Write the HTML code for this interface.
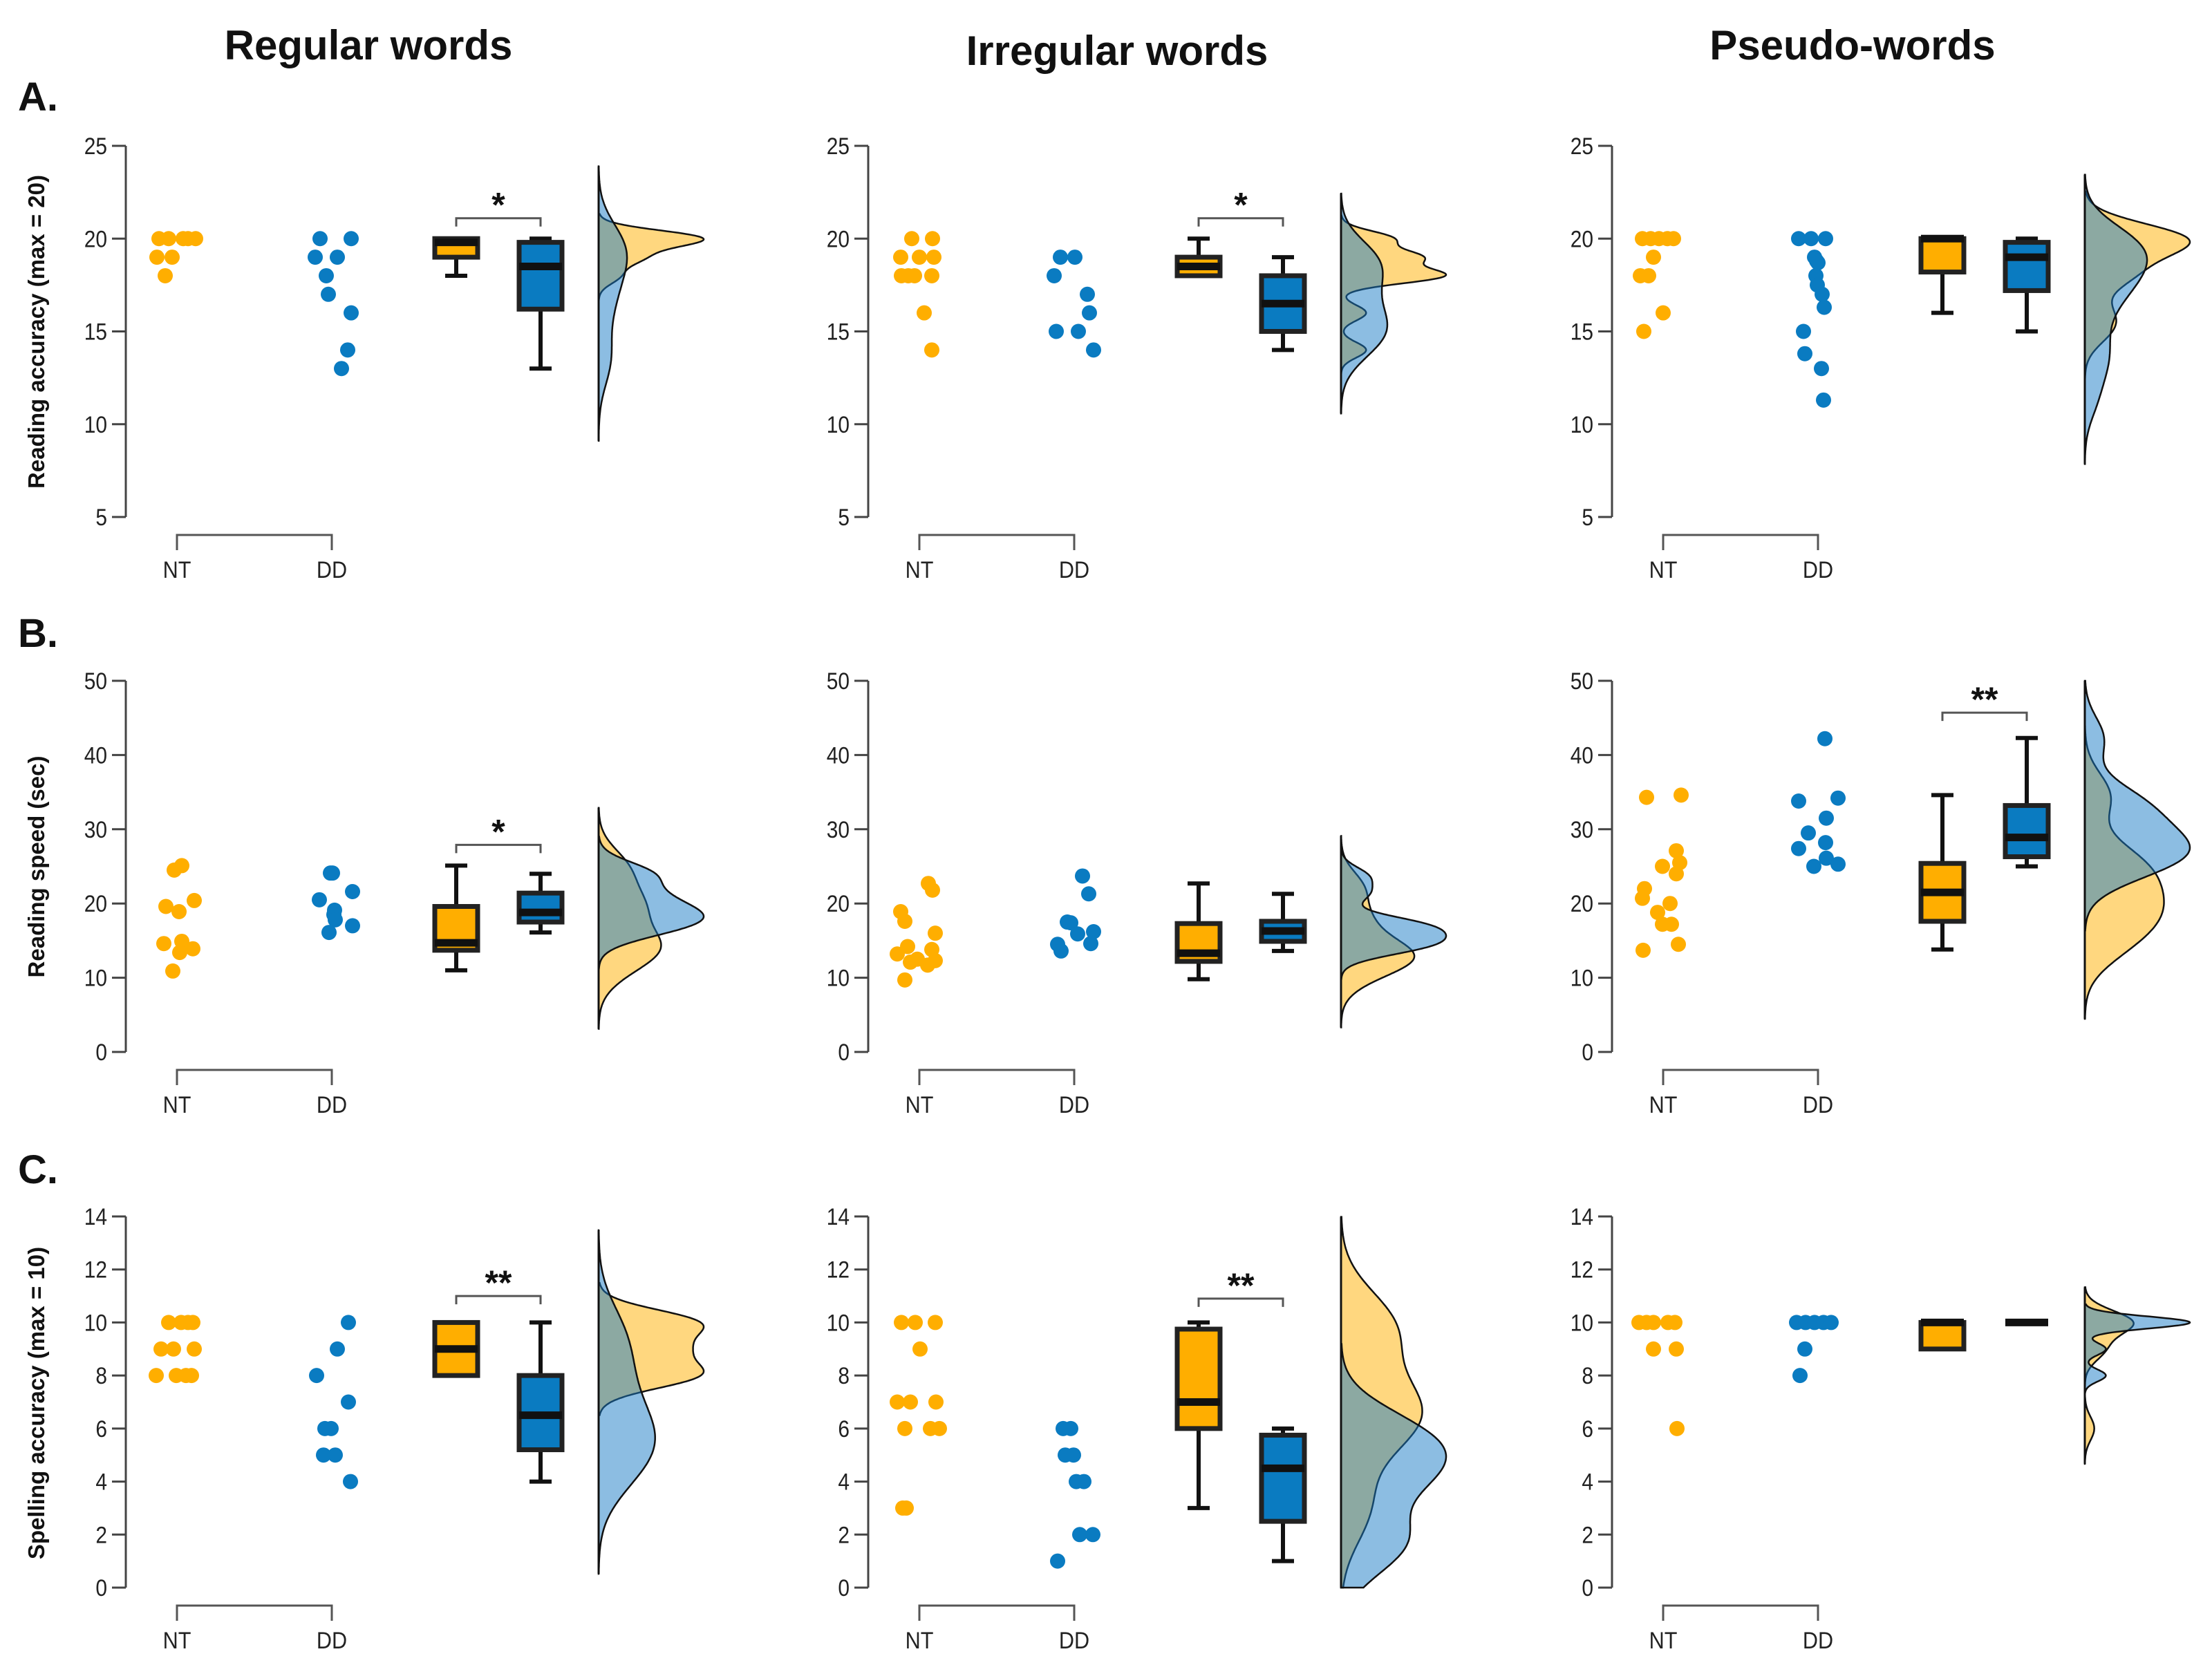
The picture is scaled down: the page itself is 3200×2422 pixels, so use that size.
<!DOCTYPE html>
<html>
<head>
<meta charset="utf-8">
<style>
  html,body{margin:0;padding:0;background:#fff;}
  svg{display:block;}
  text{font-family:"Liberation Sans",sans-serif;}
</style>
</head>
<body>
<svg id="chart" width="3200" height="2422" viewBox="0 0 3200 2422" xmlns="http://www.w3.org/2000/svg">
  <rect x="0" y="0" width="3200" height="2422" fill="#fff"/>
  <text x="533" y="86" font-size="60" font-weight="bold" text-anchor="middle" fill="#111">Regular words</text>
  <text x="1616" y="94" font-size="60" font-weight="bold" text-anchor="middle" fill="#111">Irregular words</text>
  <text x="2680" y="86" font-size="60" font-weight="bold" text-anchor="middle" fill="#111">Pseudo-words</text>
  <text x="26" y="160" font-size="58" font-weight="bold" fill="#111">A.</text>
  <text x="26" y="936" font-size="58" font-weight="bold" fill="#111">B.</text>
  <text x="26" y="1712" font-size="58" font-weight="bold" fill="#111">C.</text>
  <text transform="translate(64,480) rotate(-90)" font-size="33" font-weight="bold" text-anchor="middle" fill="#111">Reading accuracy (max = 20)</text>
  <text transform="translate(64,1254) rotate(-90)" font-size="33" font-weight="bold" text-anchor="middle" fill="#111">Reading speed (sec)</text>
  <text transform="translate(64,2030) rotate(-90)" font-size="33" font-weight="bold" text-anchor="middle" fill="#111">Spelling accuracy (max = 10)</text>
  <g id="plots"></g>
</svg>
<script>
// ---------- tick labels ----------
const ticksA = [5, 10, 15, 20, 25];
const ticksB = [0, 10, 20, 30, 40, 50];
const ticksC = [0, 2, 4, 6, 8, 10, 12, 14];
const groupLabels = ["NT", "DD"];

// ---------- A: reading accuracy ----------
const a1NtVals = [20,20,20,20,20,19,19,18];
const a1NtJit  = [-26,-12,9,16,27,-29,-7,-17];
const a1DdVals = [20,20,19,19,18,17,16,14,13];
const a1DdJit  = [-17,28,-24,8,-8,-5,28,23,14];
const a1NtBox = [18,19,19.8,20,20];
const a1DdBox = [13,16.2,18.5,19.8,20];

const a2NtVals = [20,20,19,19,19,18,18,18,18,16,14];
const a2NtJit  = [-11,19,-27,0,21,-26,-16,-7,18,7,18];
const a2DdVals = [19,19,18,17,16,15,15,14];
const a2DdJit  = [-20,1,-29,19,22,-26,6,28];
const a2NtBox = [18,18,18.5,19,20];
const a2DdBox = [14,15,16.5,18,19];

const a3NtVals = [20,20,20,20,20,19,18,18,16,15];
const a3NtJit  = [-30,-18,-6,6,15,-14,-33,-21,0,-28];
const a3DdVals = [20,20,20,19,18.8,18.7,18,17.5,17,16.3,15,13.8,13,11.3];
const a3DdJit  = [-28,-10,11,-5,-2,0,-3,-1,6,9,-21,-19,5,8];
const a3NtBox = [16,18.2,20,20,20];
const a3DdBox = [15,17.2,19,19.8,20];

// ---------- B: reading speed ----------
const b1NtVals = [24.5,25.1,19.6,20.4,18.9,14.6,14.9,13.9,13.4,10.9];
const b1NtJit  = [-4,7,-16,25,3,-19,7,23,4,-6];
const b1DdVals = [24.1,24.1,20.5,21.6,19.1,18.5,17.8,16.1,17];
const b1DdJit  = [1,-2,-18,30,4,3,5,-4,30];
const b1NtBox = [11,13.7,14.7,19.6,25.1];
const b1DdBox = [16.1,17.5,18.8,21.4,24];

const b2NtVals = [18.9,17.6,22.7,21.8,16,13.2,14.2,13.8,12.1,12.5,11.7,12.3,9.7];
const b2NtJit  = [-27,-21,13,19,23,-32,-17,18,-13,-3,12,23,-21];
const b2DdVals = [23.7,21.3,17.5,17.4,16.2,15.9,14.5,13.6,14.6];
const b2DdJit  = [12,21,-10,-5,28,5,-24,-19,24];
const b2NtBox = [9.8,12.2,13.3,17.3,22.7];
const b2DdBox = [13.6,14.9,16.3,17.6,21.3];

const b3NtVals = [34.3,34.6,27.1,25,25.5,24,22,20.7,20,18.8,17.2,17.2,13.7,14.5];
const b3NtJit  = [-24,26,19,-1,24,19,-27,-30,10,-8,-1,12,-29,22];
const b3DdVals = [42.2,33.8,34.2,31.5,29.5,27.4,28.2,26.1,25,25.3];
const b3DdJit  = [10,-28,29,12,-14,-28,11,12,-6,29];
const b3NtBox = [13.8,17.6,21.5,25.4,34.6];
const b3DdBox = [25,26.3,28.9,33.2,42.3];

// ---------- C: spelling accuracy ----------
const c1NtVals = [10,10,10,10,9,9,9,8,8,8,8];
const c1NtJit  = [-12,6,16,23,-23,-5,25,-30,-1,13,21];
const c1DdVals = [10,9,8,7,6,6,5,5,4];
const c1DdJit  = [24,8,-22,24,-10,-1,-12,5,27];
const c1NtBox = [8,8,9,10,10];
const c1DdBox = [4,5.2,6.5,8,10];

const c2NtVals = [10,10,10,9,7,7,7,6,6,6,3,3];
const c2NtJit  = [-26,-6,23,1,-32,-13,24,-21,16,29,-24,-19];
const c2DdVals = [6,6,5,5,4,4,2,2,1];
const c2DdJit  = [-16,-5,-13,-1,3,14,8,27,-24];
const c2NtBox = [3,6,7,9.75,10];
const c2DdBox = [1,2.5,4.5,5.75,6];

const c3NtVals = [10,10,10,10,10,9,9,6];
const c3NtJit  = [-35,-24,-14,7,17,-14,19,20];
const c3DdVals = [10,10,10,10,10,9,8];
const c3DdJit  = [-31,-18,-5,8,19,-19,-26];
const c3NtBox = [9,9,10,10,10];
const c3DdBox = [10,10,10,10,10];

// significance brackets: value level and label
const sigA1 = [21.1, "*"];
const sigA2 = [21.1, "*"];
const sigB1 = [27.9, "*"];
const sigB3 = [45.7, "**"];
const sigC1 = [11.0, "**"];
const sigC2 = [10.9, "**"];

const panels = [
  {id:"a1", col:0,row:0,min:5,max:25,ticks:ticksA,ntV:a1NtVals,ntJ:a1NtJit,ddV:a1DdVals,ddJ:a1DdJit,ntB:a1NtBox,ddB:a1DdBox,sig:sigA1,bwf:1},
  {id:"a2", col:1,row:0,min:5,max:25,ticks:ticksA,ntV:a2NtVals,ntJ:a2NtJit,ddV:a2DdVals,ddJ:a2DdJit,ntB:a2NtBox,ddB:a2DdBox,sig:sigA2,bwf:1},
  {id:"a3", col:2,row:0,min:5,max:25,ticks:ticksA,ntV:a3NtVals,ntJ:a3NtJit,ddV:a3DdVals,ddJ:a3DdJit,ntB:a3NtBox,ddB:a3DdBox,sig:null,bwf:0.8},
  {id:"b1", col:0,row:1,min:0,max:50,ticks:ticksB,ntV:b1NtVals,ntJ:b1NtJit,ddV:b1DdVals,ddJ:b1DdJit,ntB:b1NtBox,ddB:b1DdBox,sig:sigB1,bwf:1},
  {id:"b2", col:1,row:1,min:0,max:50,ticks:ticksB,ntV:b2NtVals,ntJ:b2NtJit,ddV:b2DdVals,ddJ:b2DdJit,ntB:b2NtBox,ddB:b2DdBox,sig:null,bwf:1},
  {id:"b3", col:2,row:1,min:0,max:50,ticks:ticksB,ntV:b3NtVals,ntJ:b3NtJit,ddV:b3DdVals,ddJ:b3DdJit,ntB:b3NtBox,ddB:b3DdBox,sig:sigB3,bwf:1},
  {id:"c1", col:0,row:2,min:0,max:14,ticks:ticksC,ntV:c1NtVals,ntJ:c1NtJit,ddV:c1DdVals,ddJ:c1DdJit,ntB:c1NtBox,ddB:c1DdBox,sig:sigC1,bwf:1},
  {id:"c2", col:1,row:2,min:0,max:14,ticks:ticksC,ntV:c2NtVals,ntJ:c2NtJit,ddV:c2DdVals,ddJ:c2DdJit,ntB:c2NtBox,ddB:c2DdBox,sig:sigC2,bwf:1},
  {id:"c3", col:2,row:2,min:0,max:14,ticks:ticksC,ntV:c3NtVals,ntJ:c3NtJit,ddV:c3DdVals,ddJ:c3DdJit,ntB:c3NtBox,ddB:c3DdBox,sig:null,bwf:1}
];

const NS = "http://www.w3.org/2000/svg";
const COL_OFF = [0, 1074, 2150];
const ROW_OFF = [0, 774, 1549];
const ORANGE = "#FFAE00", BLUE = "#0A7BC1";

function mk(tag, attrs, parent){
  const e = document.createElementNS(NS, tag);
  for (const k in attrs) e.setAttribute(k, attrs[k]);
  parent.appendChild(e);
  return e;
}
function sd(a){const m=a.reduce((s,v)=>s+v,0)/a.length;return Math.sqrt(a.reduce((s,v)=>s+(v-m)*(v-m),0)/(a.length-1));}
function quant(a,p){const s=[...a].sort((x,y)=>x-y);const h=(s.length-1)*p;const l=Math.floor(h);return s[l]+(h-l)*((s[Math.min(l+1,s.length-1)])-s[l]);}
function bw(a){const iqr=(quant(a,0.75)-quant(a,0.25))/1.34;let m=Math.min(sd(a), iqr>0?iqr:sd(a));if(!(m>0))m=sd(a)||0.3;return 0.9*m*Math.pow(a.length,-0.2);}
function kde(a,h,y){let s=0;for(const v of a){const z=(y-v)/h;s+=Math.exp(-0.5*z*z);}return s/(a.length*h*Math.sqrt(2*Math.PI));}

const root = document.getElementById("plots");
panels.forEach(p=>{
  const ox = COL_OFF[p.col], oy = ROW_OFF[p.row];
  const top = 211+oy, bot = 748+oy;
  const ys = v => top + (p.max - v)/(p.max - p.min)*(bot - top);
  const axX = 182+ox, ntX = 256+ox, ddX = 480+ox, bNt = 660+ox, bDd = 782+ox, base = 866+ox;
  const g = mk("g", {}, root);
  
  

  const ax = mk("line", {x1:axX,y1:top,x2:axX,y2:bot,stroke:"#444","stroke-width":3}, g);
  
  
  p.ticks.forEach(t=>{
    const y = ys(t);
    const tl = mk("line", {x1:axX-20,y1:y,x2:axX,y2:y,stroke:"#444","stroke-width":3}, g);
    
    
    const tx = mk("text", {x:0,y:0,"font-size":34,"text-anchor":"end",fill:"#222",transform:`translate(${axX-27},${y+12}) scale(0.88,1)`}, g);
    tx.textContent = t;
    
    
  });
  const br = mk("path", {d:`M${ntX},${bot+48} V${bot+26} H${ddX} V${bot+48}`,fill:"none",stroke:"#555","stroke-width":3}, g);
  
  
  [ntX, ddX].forEach((x,i)=>{
    const lt = mk("text", {x:0,y:0,"font-size":34,"text-anchor":"middle",fill:"#222",transform:`translate(${x},${bot+88}) scale(0.9,1)`}, g);
    lt.textContent = groupLabels[i];
    
    
  });

  const hN = bw(p.ntV), hD = bw(p.ddV)*p.bwf;
  const rng = (a,h)=>[Math.max(p.min, Math.min(...a)-3*h), Math.min(p.max, Math.max(...a)+3*h)];
  const rN = rng(p.ntV,hN), rD = rng(p.ddV,hD);
  const N = 220;
  const sample = (a,h,r)=>{const out=[];for(let i=0;i<=N;i++){const v=r[0]+(r[1]-r[0])*i/N;out.push([v,kde(a,h,v)]);}return out;};
  const sN = sample(p.ntV,hN,rN), sD = sample(p.ddV,hD,rD);
  const mx = Math.max(...sN.map(s=>s[1]), ...sD.map(s=>s[1]));
  const k = 152/mx;
  const pathOf = s => "M"+base+","+ys(s[0][0])+" "+s.map(q=>"L"+(base+q[1]*k).toFixed(1)+","+ys(q[0]).toFixed(1)).join(" ")+" L"+base+","+ys(s[s.length-1][0])+" Z";
  const dN = mk("path", {d:pathOf(sN),fill:"#FFB000","fill-opacity":0.5,stroke:"#111","stroke-width":2.5}, g);
  
  
  const dD = mk("path", {d:pathOf(sD),fill:"#1A7CC6","fill-opacity":0.5,stroke:"#111","stroke-width":2.5}, g);
  
  
  const bl = mk("line", {x1:base,y1:ys(Math.max(rN[1],rD[1])),x2:base,y2:ys(Math.min(rN[0],rD[0])),stroke:"#111","stroke-width":3}, g);
  
  

  p.ntV.forEach((v,i)=>{
    const c = mk("circle", {cx:ntX+p.ntJ[i],cy:ys(v),r:11,fill:ORANGE}, g);
    
    
  });
  p.ddV.forEach((v,i)=>{
    const c = mk("circle", {cx:ddX+p.ddJ[i],cy:ys(v),r:11,fill:BLUE}, g);
    
    
  });

  [[p.ntB,bNt,ORANGE,"nt"],[p.ddB,bDd,BLUE,"dd"]].forEach(([b,cx,col,nm])=>{
    const [lo,q1,md,q3,hi] = b;
    const w = 31;
    if (hi > q3){
      const wh = mk("path", {d:`M${cx},${ys(q3)} V${ys(hi)} M${cx-16},${ys(hi)} H${cx+16}`,stroke:"#111","stroke-width":6,fill:"none"}, g);
      
      
    }
    if (lo < q1){
      const wl = mk("path", {d:`M${cx},${ys(q1)} V${ys(lo)} M${cx-16},${ys(lo)} H${cx+16}`,stroke:"#111","stroke-width":6,fill:"none"}, g);
      
      
    }
    if (q3 > q1){
      const bx = mk("rect", {x:cx-w,y:ys(q3),width:2*w,height:ys(q1)-ys(q3),fill:col,stroke:"#222","stroke-width":7}, g);
      
      
    }
    const ml = mk("line", {x1:cx-w,y1:ys(md),x2:cx+w,y2:ys(md),stroke:"#111","stroke-width":11}, g);
    
    
  });

  if (p.sig){
    const y = ys(p.sig[0]);
    const sb = mk("path", {d:`M${bNt},${y+12} V${y} H${bDd} V${y+12}`,fill:"none",stroke:"#555","stroke-width":3}, g);
    
    
    const st = mk("text", {x:(bNt+bDd)/2,y:y-2,"font-size":50,"font-weight":"bold","text-anchor":"middle",fill:"#111"}, g);
    st.textContent = p.sig[1];
    
    
  }
});
</script>
</body>
</html>
